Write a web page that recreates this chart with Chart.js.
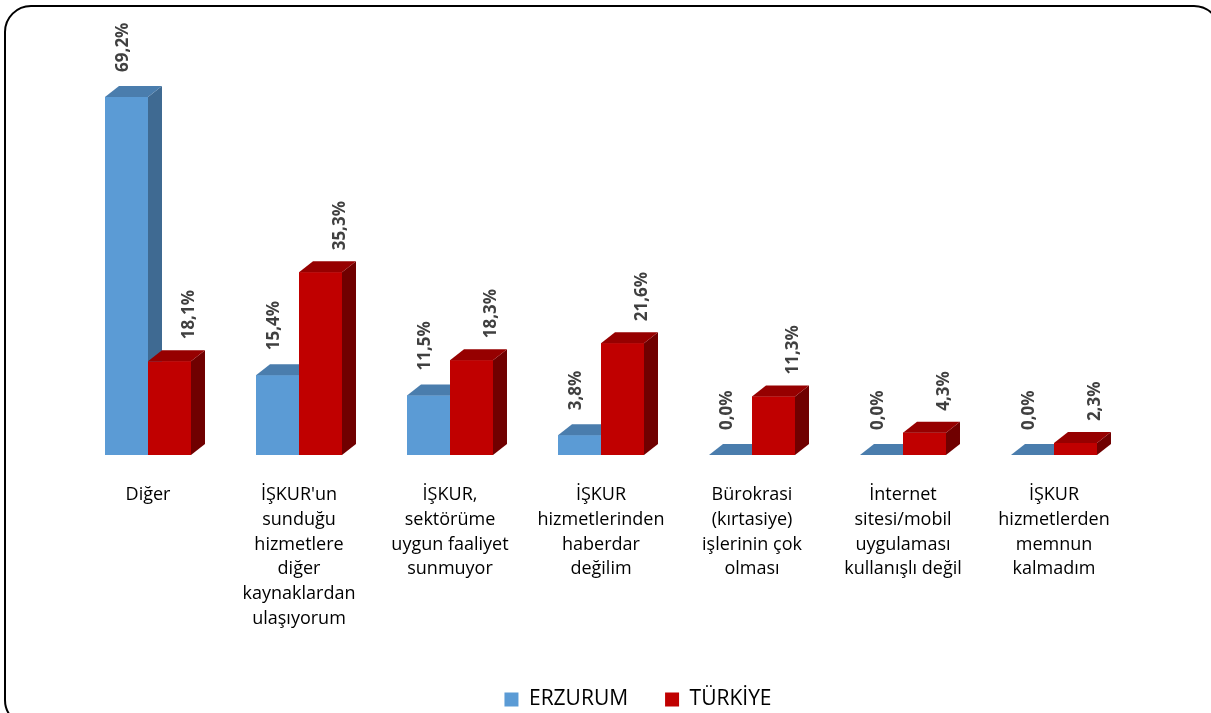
<!DOCTYPE html>
<html>
<head>
<meta charset="utf-8">
<script src="https://cdn.jsdelivr.net/npm/chart.js@4.4.1/dist/chart.umd.min.js"></script>
<style>
html,body{margin:0;padding:0;background:#fff;}
#wrap{width:1211px;height:713px;position:relative;}
</style>
</head>
<body>
<div id="wrap"><canvas id="c" width="1211" height="713"></canvas></div>
<script>
const categories = [
  ["Diğer"],
  ["İŞKUR'un","sunduğu","hizmetlere","diğer","kaynaklardan","ulaşıyorum"],
  ["İŞKUR,","sektörüme","uygun faaliyet","sunmuyor"],
  ["İŞKUR","hizmetlerinden","haberdar","değilim"],
  ["Bürokrasi","(kırtasiye)","işlerinin çok","olması"],
  ["İnternet","sitesi/mobil","uygulaması","kullanışlı değil"],
  ["İŞKUR","hizmetlerden","memnun","kalmadım"]
];
const erzurum = [69.2, 15.4, 11.5, 3.8, 0.0, 0.0, 0.0];
const turkiye = [18.1, 35.3, 18.3, 21.6, 11.3, 4.3, 2.3];
const seriesNames = ["ERZURUM", "TÜRKİYE"];

const FRONT = ["#5B9BD5", "#C00000"];
const TOP = ["#4A7DAD", "#960000"];
const SIDE = ["#3F6A92", "#700000"];
const DX = 14, DY = 11;

const frame = {
  id: 'frame',
  beforeDraw(chart) {
    const ctx = chart.ctx;
    ctx.save();
    ctx.fillStyle = '#fff';
    ctx.fillRect(0, 0, chart.width, chart.height);
    ctx.strokeStyle = '#000';
    ctx.lineWidth = 2;
    ctx.beginPath();
    ctx.roundRect(5, 6, 1215, 720, 26);
    ctx.stroke();
    ctx.restore();
  },
  afterLayout(chart) {
    const lg = chart.legend;
    if (lg) { lg.left += 37; lg.right += 37; lg.top += 7; lg.bottom += 7; }
  }
};

const bars3d = {
  id: 'bars3d',
  afterDatasetsDraw(chart) {
    const ctx = chart.ctx;
    ctx.save();
    [0, 1].forEach(di => {
      const meta = chart.getDatasetMeta(di);
      meta.data.forEach(bar => {
        const p = bar.getProps(['x', 'y', 'base', 'width'], true);
        const l = p.x - p.width / 2, r = p.x + p.width / 2;
        const t = Math.min(p.y, p.base), b = Math.max(p.y, p.base);
        ctx.fillStyle = FRONT[di];
        ctx.fillRect(l, t, r - l, b - t);
        if (b - t > 0) {
          ctx.fillStyle = SIDE[di];
          ctx.beginPath();
          ctx.moveTo(r, t); ctx.lineTo(r + DX, t - DY);
          ctx.lineTo(r + DX, b - DY); ctx.lineTo(r, b);
          ctx.closePath(); ctx.fill();
        }
        ctx.fillStyle = TOP[di];
        ctx.beginPath();
        ctx.moveTo(l, t); ctx.lineTo(l + DX, t - DY);
        ctx.lineTo(r + DX, t - DY); ctx.lineTo(r, t);
        ctx.closePath(); ctx.fill();
      });
    });
    ctx.fillStyle = '#404040';
    ctx.font = 'bold 17px "Open Sans"';
    ctx.textAlign = 'left';
    ctx.textBaseline = 'middle';
    [0, 1].forEach(di => {
      const meta = chart.getDatasetMeta(di);
      const vals = chart.data.datasets[di].data;
      meta.data.forEach((bar, i) => {
        const p = bar.getProps(['x', 'y'], true);
        const cx = di === 0 ? p.x - 3 : p.x + 20;
        const by = p.y - (di === 0 ? 25 : 22);
        const txt = vals[i].toFixed(1).replace('.', ',') + '%';
        ctx.save();
        ctx.translate(cx, by);
        ctx.rotate(-Math.PI / 2);
        ctx.fillText(txt, 0, 0);
        ctx.restore();
      });
    });
    ctx.restore();
  }
};

new Chart(document.getElementById('c'), {
  type: 'bar',
  data: {
    labels: categories,
    datasets: [
      { label: seriesNames[0], data: erzurum, backgroundColor: FRONT[0], borderWidth: 0 },
      { label: seriesNames[1], data: turkiye, backgroundColor: FRONT[1], borderWidth: 0 }
    ]
  },
  options: {
    responsive: false,
    animation: false,
    events: [],
    layout: { padding: { left: 72.5, right: 81.5, top: 41, bottom: 0 } },
    categoryPercentage: 0.5695,
    barPercentage: 1,
    scales: {
      x: {
        grid: { display: false },
        border: { display: false },
        ticks: {
          color: '#000',
          font: { family: '"Open Sans"', size: 18, lineHeight: 1.37 },
          padding: 20,
          maxRotation: 0, minRotation: 0, autoSkip: false
        },
        afterFit(scale) {
          const lh = scale.chart.legend ? scale.chart.legend.height : 0;
          scale.height = scale.chart.height - 455 - lh;
        }
      },
      y: { display: false, min: 0, max: 80 }
    },
    plugins: {
      legend: {
        position: 'bottom',
        labels: {
          color: '#000',
          font: { family: '"Open Sans"', size: 21 },
          boxWidth: 14, boxHeight: 14,
          padding: 37
        }
      },
      tooltip: { enabled: false }
    }
  },
  plugins: [frame, bars3d]
});
</script>
</body>
</html>
